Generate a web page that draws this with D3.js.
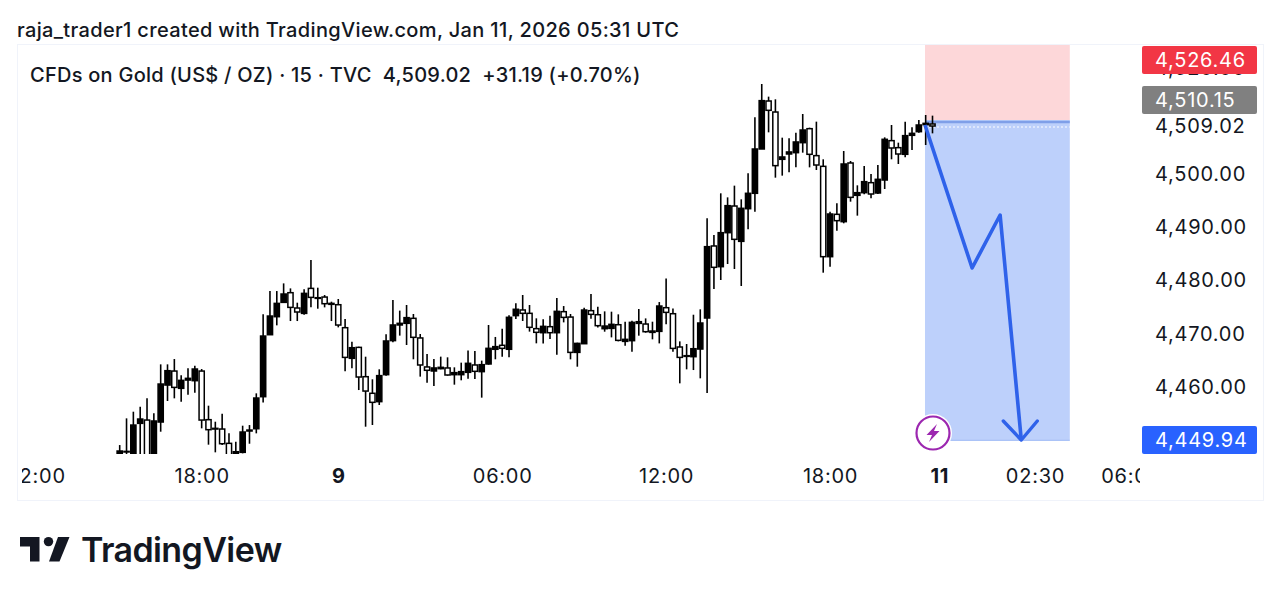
<!DOCTYPE html>
<html>
<head>
<meta charset="utf-8">
<script src="https://cdn.jsdelivr.net/npm/d3@7"></script>
<style>
  html, body { margin: 0; background: #fff; }
  text { font-family: Inter, "Noto Sans", sans-serif; fill: #131722; }
  .axis path, .axis line { display: none; }
  .axis text { font-size: 20px; font-family: Inter, sans-serif; fill: #131722; letter-spacing: 0.75px; }
</style>
</head>
<body>
<svg id="chart" width="1280" height="600"></svg>
<script>
// 15 minute bars, bar 0 is the first one on the left
var opens = [
  4447.5,4447.8,4447.4,4453.13,4453.75,4446.5,4453.38,4460.33,4462.96,4459.71,
  4461.27,4461.15,4462.96,4453.82,4452.06,4452.06,4449.37,4447.49,4447.68,4451.69,
  4452.12,4458.14,4469.79,4473.18,4475.87,4477.69,4474.81,4473.8,4478.5,4476.62,
  4476.87,4475.5,4475.43,4471.11,4465.35,4467.41,4461.9,4458.78,4457.21,4462.28,
  4468.68,4471.62,4471.93,4472.87,4469.18,4463.73,4462.97,4463.41,4463.54,4462.28,
  4462.28,4462.72,4464.1,4462.85,4464.29,4467.05,4467.8,4467.05,4473.38,4474.44,
  4473.81,4470.93,4470.17,4471.3,4470.17,4474.12,4473.11,4466.47,4468.1,4474.31,
  4473.55,4470.92,4470.98,4471.67,4468.54,4468.67,4471.92,4471.8,4470.23,4470.42,
  4474.87,4473.74,4467.48,4465.72,4465.66,4467.1,4472.93,4486.47,4482.58,4488.97,
  4493.98,4487.34,4493.48,4496.37,4504.7,4513.72,4511.65,4502.76,4503.76,4504.01,
  4505.89,4508.52,4503.45,4501.44,4484.46,4492.42,4491.04,4502.07,4495.99,4496.49,
  4498.37,4496.43,4498.87,4506.27,4504.95,4503.7,4507.27,4507.96,4509.27,4509.4
];
var highs = [
  4449.05,4454.07,4455.32,4456.26,4457.83,4455.01,4464.22,4464.22,4465.22,4462.15,
  4463.47,4463.97,4463.34,4456.45,4453.44,4454.94,4451.25,4449.68,4452.69,4452.81,
  4458.77,4473.62,4478.0,4478.0,4479.44,4478.5,4475.81,4478.32,4483.83,4478.63,
  4477.25,4476.0,4476.5,4472.74,4468.48,4467.54,4465.66,4461.41,4463.29,4469.87,
  4476.32,4474.32,4475.38,4473.69,4469.93,4466.17,4465.23,4465.67,4465.54,4463.66,
  4464.54,4466.8,4466.73,4464.92,4471.62,4469.37,4470.93,4473.44,4475.69,4477.26,
  4475.38,4472.87,4472.68,4473.37,4476.69,4475.18,4473.68,4468.29,4474.87,4477.44,
  4475.06,4474.18,4474.12,4473.62,4472.24,4472.43,4474.62,4472.86,4472.24,4475.93,
  4480.38,4474.74,4468.54,4468.04,4473.55,4474.56,4491.67,4488.53,4496.37,4495.61,
  4497.81,4495.24,4500.13,4510.65,4516.92,4514.54,4514.04,4506.83,4506.7,4507.77,
  4511.28,4508.71,4509.84,4502.76,4492.92,4494.49,4504.32,4502.44,4497.87,4501.5,
  4500.0,4501.69,4506.89,4509.21,4505.89,4509.84,4508.77,4510.15,4511.09,4510.97
];
var lows = [
  4446,4446,4446,4446,4445,4445,4451.56,4457.33,4457.83,4457.2,
  4458.52,4458.89,4452.19,4449.12,4447.68,4449.05,4445,4446,4447.49,4449.3,
  4451.25,4457.07,4469.79,4471.55,4475.87,4472.36,4472.36,4473.55,4474.93,4474.68,
  4474.93,4472.36,4471.17,4462.9,4463.47,4459.39,4452.5,4452.82,4456.58,4462.1,
  4468.36,4469.62,4467.86,4465.17,4461.91,4460.78,4460.15,4463.29,4462.1,4460.4,
  4461.22,4461.53,4461.47,4457.96,4464.16,4465.17,4465.67,4465.54,4472.75,4472.37,
  4470.37,4468.17,4468.16,4468.98,4466.03,4472.11,4465.16,4463.78,4468.04,4472.8,
  4471.17,4470.36,4469.29,4468.54,4467.73,4466.6,4469.61,4470.17,4468.92,4468.16,
  4471.74,4466.6,4460.65,4463.28,4463.15,4461.59,4458.83,4478.38,4480.07,4483.08,
  4482.14,4478.95,4489.6,4492.92,4504.7,4507.83,4499.31,4499.69,4500.31,4501.25,
  4504.01,4501.25,4500.75,4481.45,4482.58,4489.35,4490.73,4494.8,4492.17,4496.18,
  4495.43,4496.24,4497.18,4502.76,4501.88,4503.13,4504.51,4507.77,4505.45,4507.64
];
var closes = [
  4447.93,4447.86,4452.81,4453.94,4446,4453.57,4460.52,4463.03,4459.89,4461.21,
  4461.59,4463.34,4453.75,4451.94,4452.19,4449.3,4446.5,4447.8,4451.5,4451.87,
  4457.89,4469.54,4473.3,4475.68,4477.44,4474.93,4474.06,4477.56,4476.81,4476.75,
  4475.62,4475.68,4471.61,4465.53,4467.35,4461.84,4459.2,4457.08,4462.1,4468.61,
  4471.62,4471.93,4473.0,4469.3,4464.1,4463.1,4463.54,4463.66,4462.22,4462.66,
  4462.85,4464.41,4462.91,4464.16,4467.23,4467.55,4467.23,4473.06,4474.57,4473.81,
  4471.18,4470.24,4471.36,4470.17,4474.18,4473.05,4466.47,4468.16,4474.43,4473.62,
  4471.49,4471.42,4471.74,4468.73,4468.92,4472.11,4472.24,4470.36,4470.48,4475.18,
  4473.99,4467.22,4465.53,4465.85,4467.16,4471.99,4486.34,4482.46,4488.97,4494.05,
  4487.72,4493.55,4496.37,4504.7,4513.79,4511.97,4501.57,4503.2,4504.14,4506.02,
  4508.27,4503.7,4501.69,4484.46,4492.48,4491.23,4501.88,4495.61,4496.49,4498.56,
  4496.24,4499.0,4506.52,4504.89,4503.76,4507.21,4507.64,4509.21,4509.52,4509.02
];

var priceTicks = [4520, 4509.02, 4500, 4490, 4480, 4470, 4460];
var timeTicks = [-12, 12, 32, 56, 80, 104, 120, 134, 148];
var timeLabels = ['12:00', '18:00', '9', '06:00', '12:00', '18:00', '11', '02:30', '06:00'];
var boldLabels = ['9', '11'];

// short position drawing: stop, entry, target, and the blue path on it
var stopPrice = 4526.46, entryPrice = 4510.15, targetPrice = 4449.94, lastPrice = 4509.02;
var boxBars = [117.9, 139.1];
var pathBars = [117.9, 124.8, 128.9, 132];
var pathPrices = [4509.2, 4482.33, 4492.29, 4450];

var titleText = 'raja_trader1 created with TradingView.com, Jan 11, 2026 05:31 UTC';
var legendText = 'CFDs on Gold (US$ / OZ) · 15 · TVC  4,509.02  +31.19 (+0.70%)';

var svg = d3.select('#chart');
var fmt = d3.format(',.2f');

var x = d3.scaleLinear().domain([0, 119]).range([119.7, 932.5]);
var y = d3.scaleLinear().domain([4460, 4500]).range([386.8, 174]);

var defs = svg.append('defs');
defs.append('clipPath').attr('id', 'pane')
  .append('rect').attr('x', 17).attr('y', 45).attr('width', 1123).attr('height', 409);
defs.append('clipPath').attr('id', 'timeclip')
  .append('rect').attr('x', 22).attr('y', 455).attr('width', 1118).attr('height', 45);

// frame
svg.append('rect')
  .attr('x', 17.5).attr('y', 44.5).attr('width', 1246).attr('height', 456)
  .attr('fill', 'none').attr('stroke', '#f0f3fa');

svg.append('text').attr('x', 17).attr('y', 37)
  .attr('font-size', 20).attr('font-weight', 500).attr('letter-spacing', 0.34)
  .text(titleText);

var pane = svg.append('g').attr('clip-path', 'url(#pane)');

// position boxes
pane.append('rect')
  .attr('x', x(boxBars[0])).attr('width', x(boxBars[1]) - x(boxBars[0]))
  .attr('y', y(stopPrice)).attr('height', y(entryPrice) - y(stopPrice))
  .attr('fill', '#fdd7d9');
pane.append('rect')
  .attr('x', x(boxBars[0])).attr('width', x(boxBars[1]) - x(boxBars[0]))
  .attr('y', y(entryPrice)).attr('height', y(targetPrice) - y(entryPrice))
  .attr('fill', '#bdd0fb');
pane.append('line')
  .attr('x1', x(boxBars[0])).attr('x2', x(boxBars[1]))
  .attr('y1', y(entryPrice) + 2).attr('y2', y(entryPrice) + 2)
  .attr('stroke', '#7f9fe8').attr('stroke-width', 2.4);
pane.append('line')
  .attr('x1', x(boxBars[0])).attr('x2', x(boxBars[1]))
  .attr('y1', y(targetPrice)).attr('y2', y(targetPrice))
  .attr('stroke', '#9db8f5').attr('stroke-width', 1);
pane.append('line')
  .attr('x1', x(boxBars[0])).attr('x2', x(boxBars[1]))
  .attr('y1', y(lastPrice) + 1).attr('y2', y(lastPrice) + 1)
  .attr('stroke', '#fff').attr('stroke-width', 1).attr('stroke-dasharray', '2,2');

// candles
var bars = d3.range(opens.length);
var barW = 5.2;

pane.append('g').selectAll('line').data(bars).enter().append('line')
  .attr('x1', function(i) { return x(i); })
  .attr('x2', function(i) { return x(i); })
  .attr('y1', function(i) { return y(highs[i]); })
  .attr('y2', function(i) { return y(lows[i]); })
  .attr('stroke', '#000').attr('stroke-width', 1.6);

pane.append('g').selectAll('rect').data(bars).enter().append('rect')
  .attr('x', function(i) { return x(i) - barW / 2; })
  .attr('width', barW)
  .attr('y', function(i) { return y(Math.max(opens[i], closes[i])); })
  .attr('height', function(i) { return Math.max(0.6, Math.abs(y(opens[i]) - y(closes[i]))); })
  .attr('fill', function(i) { return closes[i] >= opens[i] ? '#000' : '#fff'; })
  .attr('stroke', '#000').attr('stroke-width', 1.5);

// blue path with its arrow head
var pathPts = pathBars.map(function(b, i) { return [x(b), y(pathPrices[i])]; });
var pathLine = d3.line();
var tip = pathPts[pathPts.length - 1];
pane.append('path').attr('d', pathLine(pathPts))
  .attr('fill', 'none').attr('stroke', '#2f62ea').attr('stroke-width', 3.6)
  .attr('stroke-linejoin', 'round');
pane.append('path')
  .attr('d', pathLine([[tip[0] - 18, tip[1] - 19], tip, [tip[0] + 16, tip[1] - 19]]))
  .attr('fill', 'none').attr('stroke', '#2f62ea').attr('stroke-width', 3.4)
  .attr('stroke-linecap', 'round').attr('stroke-linejoin', 'round');

// legend over the chart
svg.append('text').attr('x', 30).attr('y', 82)
  .attr('font-size', 20).attr('font-weight', 500).attr('letter-spacing', 0.25)
  .attr('xml:space', 'preserve')
  .text(legendText);

// axes
var yAxis = d3.axisRight(y).tickValues(priceTicks).tickSize(0).tickPadding(0)
  .tickFormat(fmt);
svg.append('g').attr('class', 'axis').attr('transform', 'translate(1155,0)').call(yAxis);

var xAxis = d3.axisBottom(x).tickValues(timeTicks).tickSize(0).tickPadding(0)
  .tickFormat(function(d) { return timeLabels[timeTicks.indexOf(d)]; });
// clip sits on an outer group so the axis translate does not shift it
var xg = svg.append('g').attr('clip-path', 'url(#timeclip)')
  .append('g').attr('class', 'axis')
  .attr('transform', 'translate(0,469)').call(xAxis);
xg.selectAll('text').style('font-weight', function(d) {
  return boldLabels.indexOf(timeLabels[timeTicks.indexOf(d)]) >= 0 ? 700 : 400;
});

// price tags, moved apart the way the app does it
var tagPrices = [stopPrice, entryPrice, targetPrice];
var tagColors = ['#f23645', '#808080', '#2962ff'];
var tagCentres = [60, 100, 440];
var tags = svg.append('g').selectAll('g').data(tagPrices).enter().append('g');
tags.append('rect')
  .attr('x', 1142).attr('width', 115).attr('height', 28).attr('rx', 2)
  .attr('y', function(d, i) { return tagCentres[i] - 14; })
  .attr('fill', function(d, i) { return tagColors[i]; });
tags.append('text')
  .attr('x', 1155).attr('y', function(d, i) { return tagCentres[i]; })
  .attr('dy', '.35em').attr('font-size', 20).attr('letter-spacing', 0.75)
  .style('fill', '#fff')
  .text(function(d) { return fmt(d); });

// lightning badge
var badge = svg.append('g').attr('transform', 'translate(933,433)');
badge.append('circle').attr('r', 19).attr('fill', '#fff');
badge.append('circle').attr('r', 16.5).attr('fill', '#fff')
  .attr('stroke', '#9c27b0').attr('stroke-width', 2.2);
badge.append('path').attr('d', 'M4,-9 L-6.5,2 L-1,2 L-4,9 L6.5,-2 L1,-2 Z').attr('fill', '#9c27b0');

// logo
var logo = svg.append('g').attr('fill', '#131722');
logo.append('path').attr('d', 'M20,537 H39.5 V561.5 H30 V546.5 H20 Z');
logo.append('circle').attr('cx', 48.5).attr('cy', 541.6).attr('r', 4.7);
logo.append('path').attr('d', 'M58,537 H69.5 L59.5,561.5 H49 Z');
svg.append('text').attr('x', 81).attr('y', 562)
  .attr('font-size', 34).attr('font-weight', 600).attr('letter-spacing', -0.6)
  .text('TradingView');
</script>
</body>
</html>
